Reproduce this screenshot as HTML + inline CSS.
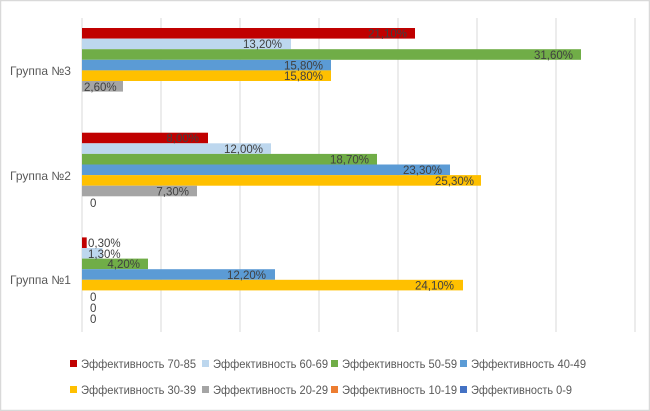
<!DOCTYPE html>
<html><head><meta charset="utf-8"><style>
html,body{margin:0;padding:0;background:#fff;}
svg{display:block;font-family:"Liberation Sans",sans-serif;}
</style></head><body>
<svg width="650" height="411" viewBox="0 0 650 411">
<rect x="0.5" y="0.5" width="649" height="410" fill="#fff" stroke="#d9d9d9" stroke-width="1.5"/>
<g stroke="#d9d9d9" stroke-width="1">
<line x1="82" y1="18" x2="82" y2="332"/>
<line x1="161" y1="18" x2="161" y2="332"/>
<line x1="240" y1="18" x2="240" y2="332"/>
<line x1="319" y1="18" x2="319" y2="332"/>
<line x1="398" y1="18" x2="398" y2="332"/>
<line x1="477" y1="18" x2="477" y2="332"/>
<line x1="556" y1="18" x2="556" y2="332"/>
<line x1="635" y1="18" x2="635" y2="332"/>
</g>
<g font-size="12" fill="#595959">
<text x="10" y="75">Группа №3</text>
<text x="10" y="180">Группа №2</text>
<text x="10" y="284">Группа №1</text>
</g>
<!-- Group 3 -->
<rect x="82" y="28" width="333" height="10.6" fill="#C00000"/>
<rect x="82" y="38.6" width="209" height="10.6" fill="#BDD7EE"/>
<rect x="82" y="49.2" width="499" height="10.6" fill="#70AD47"/>
<rect x="82" y="59.8" width="249" height="10.6" fill="#5B9BD5"/>
<rect x="82" y="70.4" width="249" height="10.6" fill="#FFC000"/>
<rect x="82" y="81" width="41" height="10.6" fill="#A5A5A5"/>
<!-- Group 2 -->
<rect x="82" y="132.7" width="126" height="10.6" fill="#C00000"/>
<rect x="82" y="143.3" width="189" height="10.6" fill="#BDD7EE"/>
<rect x="82" y="153.9" width="295" height="10.6" fill="#70AD47"/>
<rect x="82" y="164.5" width="368" height="10.6" fill="#5B9BD5"/>
<rect x="82" y="175.1" width="399" height="10.6" fill="#FFC000"/>
<rect x="82" y="185.7" width="115" height="10.6" fill="#A5A5A5"/>
<!-- Group 1 -->
<rect x="82" y="237.4" width="4.7" height="10.6" fill="#C00000"/>
<rect x="82" y="248" width="20.5" height="10.6" fill="#BDD7EE"/>
<rect x="82" y="258.6" width="66" height="10.6" fill="#70AD47"/>
<rect x="82" y="269.2" width="193" height="10.6" fill="#5B9BD5"/>
<rect x="82" y="279.8" width="381" height="10.6" fill="#FFC000"/>
<g font-size="11.5" fill="#404040">
<text x="407" y="37.5" text-anchor="end">21,10%</text>
<text x="282" y="48" text-anchor="end">13,20%</text>
<text x="573" y="59" text-anchor="end">31,60%</text>
<text x="323" y="69.5" text-anchor="end">15,80%</text>
<text x="323" y="80" text-anchor="end">15,80%</text>
<text x="84" y="91">2,60%</text>
<text x="199" y="142" text-anchor="end">8,00%</text>
<text x="263" y="153" text-anchor="end">12,00%</text>
<text x="369" y="163.5" text-anchor="end">18,70%</text>
<text x="442" y="174" text-anchor="end">23,30%</text>
<text x="474" y="185" text-anchor="end">25,30%</text>
<text x="189" y="195.5" text-anchor="end">7,30%</text>
<text x="90" y="207">0</text>
<text x="88" y="247">0,30%</text>
<text x="88" y="258">1,30%</text>
<text x="140" y="268" text-anchor="end">4,20%</text>
<text x="266" y="279" text-anchor="end">12,20%</text>
<text x="454" y="289.5" text-anchor="end">24,10%</text>
<text x="90" y="301">0</text>
<text x="90" y="312">0</text>
<text x="90" y="323">0</text>
</g>
<g font-size="12" fill="#595959">
<rect x="70" y="360" width="7" height="7" fill="#C00000"/>
<text x="81" y="368" textLength="115" lengthAdjust="spacingAndGlyphs">Эффективность 70-85</text>
<rect x="202" y="360" width="7" height="7" fill="#BDD7EE"/>
<text x="213" y="368" textLength="115" lengthAdjust="spacingAndGlyphs">Эффективность 60-69</text>
<rect x="331" y="360" width="7" height="7" fill="#70AD47"/>
<text x="342" y="368" textLength="115" lengthAdjust="spacingAndGlyphs">Эффективность 50-59</text>
<rect x="460" y="360" width="7" height="7" fill="#5B9BD5"/>
<text x="471" y="368" textLength="115" lengthAdjust="spacingAndGlyphs">Эффективность 40-49</text>
<rect x="70" y="386" width="7" height="7" fill="#FFC000"/>
<text x="81" y="394" textLength="115" lengthAdjust="spacingAndGlyphs">Эффективность 30-39</text>
<rect x="202" y="386" width="7" height="7" fill="#A5A5A5"/>
<text x="213" y="394" textLength="115" lengthAdjust="spacingAndGlyphs">Эффективность 20-29</text>
<rect x="331" y="386" width="7" height="7" fill="#ED7D31"/>
<text x="342" y="394" textLength="115" lengthAdjust="spacingAndGlyphs">Эффективность 10-19</text>
<rect x="460" y="386" width="7" height="7" fill="#4472C4"/>
<text x="471" y="394" textLength="101" lengthAdjust="spacingAndGlyphs">Эффективность 0-9</text>
</g>
</svg>
</body></html>
